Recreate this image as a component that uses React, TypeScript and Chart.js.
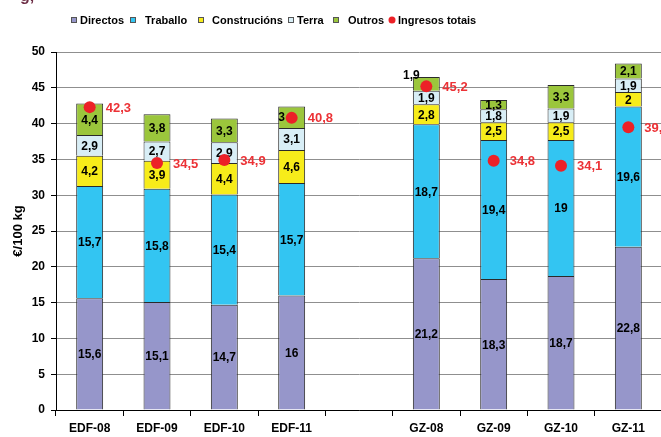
import React, { useEffect, useRef } from "react";
import { Chart, registerables } from "chart.js";

Chart.register(...registerables);

const categories = ["EDF-08", "EDF-09", "EDF-10", "EDF-11", "", "GZ-08", "GZ-09", "GZ-10", "GZ-11"];
const directos = [15.6, 15.1, 14.7, 16, null, 21.2, 18.3, 18.7, 22.8];
const traballo = [15.7, 15.8, 15.4, 15.7, null, 18.7, 19.4, 19, 19.6];
const construcions = [4.2, 3.9, 4.4, 4.6, null, 2.8, 2.5, 2.5, 2];
const terra = [2.9, 2.7, 2.9, 3.1, null, 1.9, 1.8, 1.9, 1.9];
const outros = [4.4, 3.8, 3.3, 3, null, 1.9, 1.3, 3.3, 2.1];
const ingresos = [42.3, 34.5, 34.9, 40.8, null, 45.2, 34.8, 34.1, 39.5];
const seriesNames = ["Directos", "Traballo", "Construcións", "Terra", "Outros", "Ingresos totais"];
const seriesColors = ["#9696CA", "#33C5F2", "#F7EC1A", "#D8EEF6", "#9BC63C", "#EC2127"];
const yMin = 0;
const yMax = 50;
const yStep = 5;
const yTitle = "€/100 kg";

const FONT = "'Liberation Sans', Arial, sans-serif";
const fmt = (v: number) => String(v).replace(".", ",");

const labelsPlugin = {
  id: "customLabels",
  afterDatasetDraw(chart: any, args: any) {
    if (args.index !== 0) return;
    const ctx = chart.ctx;
    ctx.save();
    ctx.font = `bold 12px ${FONT}`;
    ctx.fillStyle = "#000";
    ctx.textAlign = "center";
    ctx.textBaseline = "middle";
    for (let d = 0; d < 5; d++) {
      const meta = chart.getDatasetMeta(d);
      const data = chart.data.datasets[d].data;
      meta.data.forEach((el: any, i: number) => {
        const v = data[i];
        if (v == null) return;
        let x = el.x;
        let y = (el.y + el.base) / 2;
        const text = fmt(v);
        if (d === 4 && i === 5) {
          x = el.x - 15;
          y = el.y - 2;
        }
        if (d === 4 && i === 3) {
          x = el.x - 10;
        }
        ctx.fillText(text, x, y + 1);
      });
    }
    ctx.restore();
  },
  afterDatasetsDraw(chart: any) {
    const ctx = chart.ctx;
    const meta = chart.getDatasetMeta(5);
    ctx.save();
    ctx.font = `bold 13px ${FONT}`;
    ctx.fillStyle = "#EC3236";
    ctx.textAlign = "left";
    ctx.textBaseline = "middle";
    meta.data.forEach((el: any, i: number) => {
      const v = ingresos[i];
      if (v == null) return;
      ctx.fillText(fmt(v), el.x + 16, el.y + 1);
    });
    ctx.restore();
  },
  afterDraw(chart: any) {
    const ctx = chart.ctx;
    ctx.save();
    // legend
    const xs = [71, 130, 198, 288, 333, 392];
    const txs = [80, 145, 212, 297, 348, 398];
    const ly = 20;
    ctx.font = `bold 11px ${FONT}`;
    ctx.textBaseline = "middle";
    ctx.textAlign = "left";
    for (let i = 0; i < 6; i++) {
      if (i < 5) {
        ctx.fillStyle = seriesColors[i];
        ctx.fillRect(xs[i], ly - 3, 6, 6);
        ctx.strokeStyle = "#555";
        ctx.lineWidth = 1;
        ctx.strokeRect(xs[i] + 0.5, ly - 2.5, 5, 5);
      } else {
        ctx.fillStyle = seriesColors[i];
        ctx.beginPath();
        ctx.arc(xs[i], ly, 3.5, 0, Math.PI * 2);
        ctx.fill();
      }
      ctx.fillStyle = "#000";
      ctx.fillText(seriesNames[i], txs[i], ly + 1);
    }
    // y axis title
    ctx.translate(18, (chart.chartArea.top + chart.chartArea.bottom) / 2);
    ctx.rotate(-Math.PI / 2);
    ctx.textAlign = "center";
    ctx.font = `bold 13px ${FONT}`;
    ctx.fillText(yTitle, 0, 0);
    ctx.restore();
  },
};

export default function App() {
  const ref = useRef<HTMLCanvasElement>(null);
  useEffect(() => {
    const barData = [directos, traballo, construcions, terra, outros];
    const chart = new Chart(ref.current as HTMLCanvasElement, {
      type: "bar",
      data: {
        labels: categories,
        datasets: [
          ...barData.map((arr, i) => ({
            type: "bar" as const,
            label: seriesNames[i],
            data: arr,
            backgroundColor: seriesColors[i],
            borderColor: "#2a2a2a",
            borderWidth: 1,
            barPercentage: 0.4,
            categoryPercentage: 1,
            stack: "costs",
          })),
          {
            type: "line" as const,
            label: seriesNames[5],
            data: ingresos,
            showLine: false,
            pointRadius: 6,
            pointBackgroundColor: seriesColors[5],
            pointBorderColor: seriesColors[5],
            pointBorderWidth: 0,
            stack: "ingresos",
            order: -1,
          },
        ],
      } as any,
      options: {
        responsive: false,
        animation: false,
        devicePixelRatio: 1,
        layout: { padding: { top: 52, right: 38, bottom: 0, left: 0 } },
        plugins: { legend: { display: false }, tooltip: { enabled: false }, title: { display: false } },
        scales: {
          x: {
            stacked: true,
            offset: true,
            grid: { offset: true, drawOnChartArea: false, drawTicks: true, tickLength: 6, color: "#000" },
            border: { color: "#000", width: 1 },
            ticks: { color: "#000", font: { family: FONT, size: 12, weight: "bold" }, padding: 5, maxRotation: 0, autoSkip: false },
            afterFit: (s: any) => { s.height = 27; },
          },
          y: {
            stacked: true,
            min: yMin,
            max: yMax,
            ticks: { stepSize: yStep, color: "#000", font: { family: FONT, size: 12, weight: "bold" }, padding: 6 },
            grid: { color: "#8f8f8f", tickColor: "#000", tickLength: 5, lineWidth: 1 },
            border: { color: "#000", width: 1 },
            afterFit: (s: any) => { s.width = 56; },
          },
        },
      } as any,
      plugins: [labelsPlugin],
    });
    return () => chart.destroy();
  }, []);
  return (
    <div style={{ position: "fixed", left: 0, top: 0, width: 661, height: 437, overflow: "hidden", background: "#fff" }}>
      <div style={{ position: "absolute", left: 20, top: -13, font: `bold 16px ${FONT}`, color: "#6d2e46", whiteSpace: "nowrap" }}>g,</div>
      <canvas ref={ref} width={700} height={437} style={{ display: "block" }} />
    </div>
  );
}
